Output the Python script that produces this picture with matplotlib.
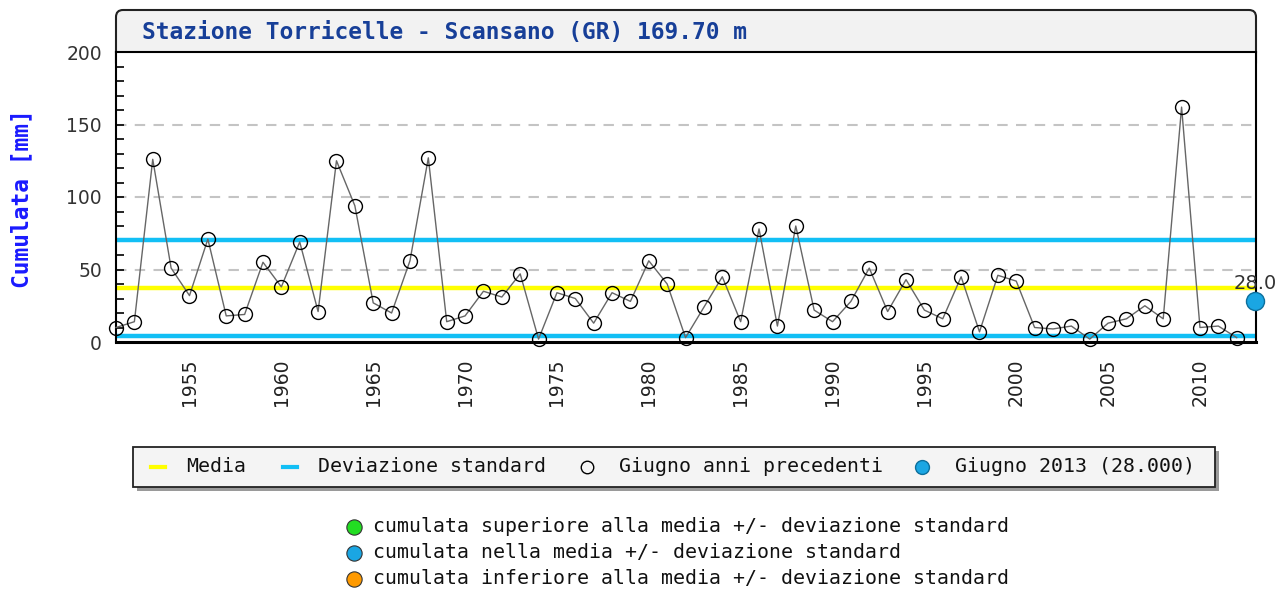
import numpy as np
import matplotlib
matplotlib.use("Agg")
import matplotlib.pyplot as plt
from matplotlib.lines import Line2D
from matplotlib.patches import Rectangle, FancyBboxPatch
from matplotlib.transforms import Affine2D
from matplotlib.ticker import MultipleLocator

# June cumulated rainfall (mm), 1951-2012
years = np.arange(1951, 2013)
values = [10, 14, 126, 51, 32, 71, 18, 19, 55, 38,
          69, 21, 125, 94, 27, 20, 56, 127, 14, 18,
          35, 31, 47, 2, 34, 30, 13, 34, 28, 56,
          40, 3, 24, 45, 14, 78, 11, 80, 22, 14,
          28, 51, 21, 43, 22, 16, 45, 7, 46, 42,
          10, 9, 11, 2, 13, 16, 25, 16, 162, 10,
          11, 3]
current_year = 2013
current_value = 28.0
media = 37.3
dev_std = 33.0

title = "Stazione Torricelle - Scansano (GR) 169.70 m"
ylabel = "Cumulata [mm]"
legend_labels = ["Media", "Deviazione standard", "Giugno anni precedenti",
                 "Giugno 2013 (28.000)"]
notes = ["cumulata superiore alla media +/- deviazione standard",
         "cumulata nella media +/- deviazione standard",
         "cumulata inferiore alla media +/- deviazione standard"]
note_colors = ["#22dd22", "#1aa6e3", "#ff9a00"]

YELLOW = "#ffff00"
CYAN = "#12bff5"
BLUE = "#1aa6e3"
MONO = "DejaVu Sans Mono"

W, H = 1287, 593
fig = plt.figure(figsize=(W / 100, H / 100), dpi=100)
# pixel coordinates measured from the top-left corner
T = Affine2D().scale(1, -1).translate(0, H)

ax = fig.add_axes([116 / W, 1 - 342 / H, (1256 - 116) / W, (342 - 52) / H])

# title box (drawn behind the axes)
fig.add_artist(FancyBboxPatch((116, 10), 1140, 60, boxstyle="round,pad=0,rounding_size=7",
                              transform=T, facecolor="#f2f2f2", edgecolor="#222222",
                              lw=1.5, zorder=-1))
fig.text(142, 32, title, transform=T, ha="left", va="center", family=MONO,
         weight="bold", fontsize=16.5, color="#173f98")
fig.text(22, 199, ylabel, transform=T, rotation=90, ha="center", va="center",
         family=MONO, weight="bold", fontsize=16.5, color="#1a1aff")

# reference lines
for g in [50, 100, 150]:
    ax.axhline(g, color="#c4c4c4", lw=1.5, linestyle=(0, (5, 4)), zorder=1)
ax.axhline(media, color=YELLOW, lw=3.2, zorder=2)
ax.axhline(media + dev_std, color=CYAN, lw=3.2, zorder=2)
ax.axhline(media - dev_std, color=CYAN, lw=3.2, zorder=2)

ax.plot(years, values, color="#666666", lw=1.0, marker="o", markersize=10,
        markerfacecolor="none", markeredgecolor="black", markeredgewidth=1.0,
        clip_on=False, zorder=4)
ax.plot([current_year], [current_value], marker="o", markersize=13,
        markerfacecolor=BLUE, markeredgecolor="#0d6f9c", markeredgewidth=1.0,
        linestyle="none", clip_on=False, zorder=5)
ax.annotate(f"{current_value:.1f}", (current_year, current_value), xytext=(0, 6),
            textcoords="offset points", ha="center", va="bottom", fontsize=14,
            color="#333333", annotation_clip=False, zorder=6)

ax.set_xlim(1951, 2013.05)
ax.set_ylim(0, 200)
ax.set_xticks(np.arange(1955, 2011, 5))
ax.set_yticks([0, 50, 100, 150, 200])
ax.yaxis.set_minor_locator(MultipleLocator(10))
ax.tick_params(axis="x", length=0, pad=12, labelsize=13.5, labelcolor="#222222",
               labelrotation=90)
ax.tick_params(axis="y", which="both", direction="in", length=6, width=1.2,
               pad=10, labelsize=13.5, labelcolor="#333333")
for lab in ax.get_xticklabels():
    lab.set_va("top")
for side in ["left", "right", "top"]:
    ax.spines[side].set_linewidth(1.5)
ax.spines["bottom"].set_linewidth(2.2)

# legend box with shadow
fig.add_artist(Rectangle((137, 451), 1082, 40, transform=T, facecolor="#9a9a9a",
                         edgecolor="none", zorder=1))
fig.add_artist(Rectangle((133, 447), 1082, 40, transform=T, facecolor="#f4f4f4",
                         edgecolor="#222222", lw=1.3, zorder=2))
ly = 467
fig.add_artist(Line2D([151, 165], [ly, ly], transform=T, color=YELLOW, lw=3, zorder=3))
fig.add_artist(Line2D([283, 297], [ly, ly], transform=T, color=CYAN, lw=3, zorder=3))
fig.add_artist(Line2D([587], [ly], transform=T, marker="o", markersize=9,
                      markerfacecolor="none", markeredgecolor="black", zorder=3))
fig.add_artist(Line2D([922], [ly], transform=T, marker="o", markersize=10,
                      markerfacecolor=BLUE, markeredgecolor="#0d6f9c", zorder=3))
for x, lab in zip([186, 318, 619, 955], legend_labels):
    fig.text(x, ly, lab, transform=T, ha="left", va="center", family=MONO,
             fontsize=14.3, color="#111111", zorder=3)

# colour key below
for i, (txt, c) in enumerate(zip(notes, note_colors)):
    y = 527 + 26 * i
    fig.add_artist(Line2D([354], [y], transform=T, marker="o", markersize=11,
                          markerfacecolor=c, markeredgecolor="#333333", markeredgewidth=0.8))
    fig.text(373, y, txt, transform=T, ha="left", va="center", family=MONO,
             fontsize=14.3, color="#111111")

fig.savefig("out.png", dpi=100)
